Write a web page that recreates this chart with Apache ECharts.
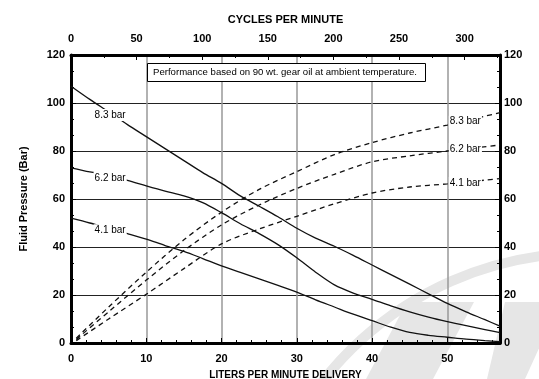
<!DOCTYPE html>
<html>
<head>
<meta charset="utf-8">
<script src="https://cdn.jsdelivr.net/npm/echarts@6/dist/echarts.min.js"></script>
<style>
  html, body { margin: 0; padding: 0; background: #fff; }
  #chart { width: 539px; height: 379px; }
</style>
</head>
<body>
<div id="chart"></div>
<script>
// fluid pressure curves (solid), x = liters per minute
const flowSolid = [0, 2.5, 5, 7.5, 10, 12.5, 15, 17.5, 20, 22.5, 25, 27.5, 30, 32.5, 35, 37.5, 40, 42.5, 45, 47.5, 50, 52.5, 55, 57];
const fluid83 = [107, 101.5, 96.3, 91, 86, 81, 76, 71, 66.5, 61.3, 57, 52.6, 47.8, 43.7, 40.3, 36.5, 32.5, 28.5, 24.5, 20.5, 16.5, 13, 9.7, 7];
const fluid62 = [73, 71.3, 69.8, 67.8, 65.5, 63.3, 61.3, 58.5, 54.3, 49.7, 45.6, 41, 35.5, 29.5, 24.2, 20.8, 18.2, 15.5, 13, 10.8, 8.9, 7.2, 5.6, 4.3];
const fluid41 = [52, 50, 47.8, 45.6, 43.3, 40.6, 38.2, 35.2, 32.1, 29.4, 26.7, 24, 21.2, 18, 15, 12, 9.3, 6.6, 4.4, 3.2, 2.4, 1.6, 1, 0.6];

// dashed curves
const flowDashed = [0.7, 5, 10, 15, 20, 25, 30, 35, 40, 45, 50, 57];
const dashed83 = [2, 15, 29.5, 43, 54.5, 64, 71.4, 78.5, 83.5, 87.5, 90.8, 96];
const dashed62 = [1.5, 13, 26.2, 38.5, 49.2, 57.5, 64.4, 70.3, 75.5, 78, 80, 82.5];
const dashed41 = [1, 10, 20.3, 31, 41.3, 47.5, 52.8, 58, 62.5, 65, 66.3, 68.5];

const airLabels = ['8.3 bar', '6.2 bar', '4.1 bar'];
const noteText = 'Performance based on 90 wt. gear oil at ambient temperature.';

const FONT = 'Liberation Sans, Arial, sans-serif';

function pairs(xs, ys) {
    return xs.map((x, i) => [x, ys[i]]);
}

function makeSeries(name, xs, ys, dashed, labelAt) {
    return {
        name: name,
        type: 'line',
        data: pairs(xs, ys),
        smooth: 0.3,
        symbol: 'none',
        lineStyle: { color: '#111', width: 1.3, type: dashed ? [5, 4] : 'solid' },
        z: 3,
        markPoint: {
            symbol: 'circle',
            symbolSize: 1,
            itemStyle: { color: 'transparent' },
            silent: true,
            data: [{ coord: labelAt, value: name }],
            label: {
                show: true,
                position: 'inside',
                formatter: name,
                color: '#000',
                fontSize: 10,
                fontFamily: FONT,
                backgroundColor: '#fff',
                padding: [1, 1]
            }
        }
    };
}

var myChart = echarts.init(document.getElementById('chart'), null, { renderer: 'canvas' });

var boxLine = { show: true, onZero: false, lineStyle: { color: '#000', width: 3 } };
var tickLabel = { color: '#000', fontSize: 11, fontWeight: 'bold', fontFamily: FONT };

var option = {
    backgroundColor: '#fff',
    animation: false,
    grid: { left: 71, right: 39, top: 55, bottom: 36, containLabel: false, outerBoundsMode: 'none' },
    graphic: [
        // faint logo in the background
        {
            type: 'arc', z: -10, silent: true,
            shape: { cx: 585, cy: 585, r: 332, startAngle: -2.62, endAngle: -1.35 },
            style: { stroke: '#e6e6e6', lineWidth: 10, fill: null }
        },
        {
            type: 'polygon', z: -10, silent: true,
            shape: { points: [[407, 302], [474, 302], [433, 379], [366, 379]] },
            style: { fill: '#e6e6e6' }
        },
        {
            type: 'polygon', z: -10, silent: true,
            shape: { points: [[505, 302], [560, 302], [525, 379], [487, 379]] },
            style: { fill: '#e6e6e6' }
        },
        // note box
        {
            type: 'rect', z: 20,
            shape: { x: 147.5, y: 63.5, width: 278, height: 18 },
            style: { fill: '#fff', stroke: '#000', lineWidth: 1 }
        },
        {
            type: 'text', z: 21,
            left: 153, top: 67,
            style: { text: noteText, fontSize: 9.6, fontFamily: FONT, fill: '#000' }
        }
    ],
    xAxis: [
        {
            type: 'value', position: 'bottom',
            min: 0, max: 57, interval: 10,
            name: 'LITERS PER MINUTE DELIVERY',
            nameLocation: 'middle', nameGap: 27,
            nameTextStyle: { color: '#000', fontSize: 10, fontWeight: 'bold', fontFamily: FONT },
            axisLine: boxLine,
            axisTick: { inside: true, length: 5, lineStyle: { color: '#000' } },
            minorTick: { show: true, splitNumber: 5, length: 3, lineStyle: { color: '#000' } },
            axisLabel: Object.assign({ margin: 10, showMaxLabel: false }, tickLabel),
            splitLine: { show: true, lineStyle: { color: '#999', width: 1.5 } }
        },
        {
            type: 'value', position: 'top',
            min: 0, max: 327, interval: 50,
            name: 'CYCLES PER MINUTE',
            nameLocation: 'middle', nameGap: 30,
            nameTextStyle: { color: '#000', fontSize: 11, fontWeight: 'bold', fontFamily: FONT },
            axisLine: boxLine,
            axisTick: { inside: true, length: 5, lineStyle: { color: '#000' } },
            minorTick: { show: true, splitNumber: 2, length: 3, lineStyle: { color: '#000' } },
            axisLabel: Object.assign({ margin: 11, showMaxLabel: false }, tickLabel),
            splitLine: { show: false }
        }
    ],
    yAxis: [
        {
            type: 'value', position: 'left',
            min: 0, max: 120, interval: 20,
            name: 'Fluid Pressure (Bar)',
            nameLocation: 'middle', nameGap: 42,
            nameTextStyle: { color: '#000', fontSize: 11, fontWeight: 'bold', fontFamily: FONT },
            axisLine: boxLine,
            axisTick: { inside: true, length: 5, lineStyle: { color: '#000' } },
            minorTick: { show: true, splitNumber: 3, length: 3, lineStyle: { color: '#000' } },
            axisLabel: Object.assign({ margin: 6 }, tickLabel),
            splitLine: { show: true, lineStyle: { color: '#222', width: 1 } }
        },
        {
            type: 'value', position: 'right',
            min: 0, max: 120, interval: 20,
            axisLine: boxLine,
            axisTick: { inside: true, length: 5, lineStyle: { color: '#000' } },
            minorTick: { show: true, splitNumber: 3, length: 3, lineStyle: { color: '#000' } },
            axisLabel: Object.assign({ margin: 4 }, tickLabel),
            splitLine: { show: false }
        }
    ],
    series: [
        makeSeries('8.3 bar', flowSolid, fluid83, false, [5.2, 95]),
        makeSeries('6.2 bar', flowSolid, fluid62, false, [5.2, 68.7]),
        makeSeries('4.1 bar', flowSolid, fluid41, false, [5.2, 47]),
        makeSeries(airLabels[0], flowDashed, dashed83, true, [52.4, 92.2]),
        makeSeries(airLabels[1], flowDashed, dashed62, true, [52.4, 80.8]),
        makeSeries(airLabels[2], flowDashed, dashed41, true, [52.4, 66.7])
    ]
};

myChart.setOption(option);
window.onresize = function () {
    myChart.resize();
};
</script>
</body>
</html>
